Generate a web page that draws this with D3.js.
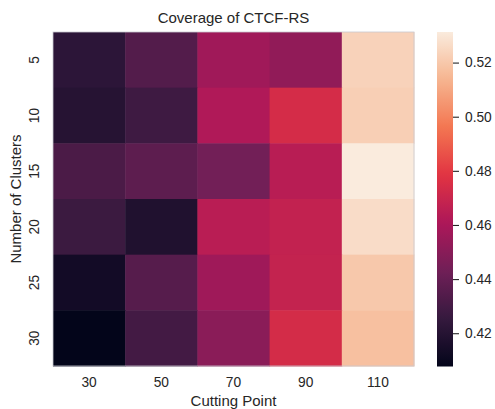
<!DOCTYPE html>
<html><head><meta charset="utf-8">
<script src="https://cdn.jsdelivr.net/npm/d3@7"></script>
<style>body{margin:0;background:#fff;} svg{display:block;} text{font-family:"Liberation Sans",Arial,sans-serif;fill:#262626;}</style>
</head><body><svg id="c" width="495" height="409"></svg>
<script>
const xLabels = ["30","50","70","90","110"];
const yLabels = ["5","10","15","20","25","30"];
const row5  = [0.4222, 0.4344, 0.4570, 0.4526, 0.5233];
const row10 = [0.4201, 0.4280, 0.4617, 0.4740, 0.5223];
const row15 = [0.4320, 0.4374, 0.4435, 0.4645, 0.5313];
const row20 = [0.4271, 0.4180, 0.4646, 0.4678, 0.5265];
const row25 = [0.4134, 0.4353, 0.4566, 0.4680, 0.5200];
const row30 = [0.4077, 0.4296, 0.4506, 0.4736, 0.5175];
const values = [row5, row10, row15, row20, row25, row30];
const cbarTicks = [0.42, 0.44, 0.46, 0.48, 0.50, 0.52];
const rocketStops = ["#03051a","#35193e","#701f57","#ad1759","#e13342","#f37651","#f6b48f","#faebdd"];

const svg = d3.select("#c");
const m = {left:53, right:414, top:32, bottom:366};
const x = d3.scaleBand().domain(xLabels).range([m.left, m.right]);
const y = d3.scaleBand().domain(yLabels).range([m.top, m.bottom]);
const all = values.flat();
const vmin = d3.min(all), vmax = d3.max(all);
const rocket = d3.scaleLinear().domain(rocketStops.map((_, i) => i / (rocketStops.length - 1))).range(rocketStops).interpolate(d3.interpolateRgb);
const tScale = d3.scaleLinear().domain([vmin, vmax]).range([0, 1]).clamp(true);
const color = v => rocket(tScale(v));

const cells = [];
values.forEach((row, i) => row.forEach((v, j) => cells.push({r: yLabels[i], c: xLabels[j], v})));
svg.append("g").selectAll("rect").data(cells).join("rect")
  .attr("x", d => x(d.c)).attr("y", d => y(d.r))
  .attr("width", x.bandwidth() + 0.5).attr("height", y.bandwidth() + 0.5)
  .attr("fill", d => color(d.v));
svg.append("rect").attr("x", m.left).attr("y", m.top).attr("width", m.right - m.left).attr("height", m.bottom - m.top)
  .attr("fill", "none").attr("stroke", "#c8c8d0").attr("stroke-width", 0.8);

// axes
const xAxis = svg.append("g").attr("transform", `translate(0,${m.bottom})`).call(d3.axisBottom(x).tickSize(0).tickPadding(0));
xAxis.select(".domain").remove();
xAxis.selectAll("text").attr("y", 21.3).attr("dy", null).style("font-size", "13.75px").attr("fill", "#262626");

const yAxis = svg.append("g").attr("transform", `translate(${m.left},0)`).call(d3.axisLeft(y).tickSize(0));
yAxis.select(".domain").remove();
yAxis.selectAll(".tick text").attr("x", null).attr("dy", null).attr("text-anchor", "middle")
  .attr("transform", "translate(-14,0) rotate(-90)").style("font-size", "13.75px").attr("fill", "#262626");

svg.append("text").attr("x", (m.left + m.right) / 2).attr("y", 23.3).attr("text-anchor", "middle")
  .style("font-size", "15px").text("Coverage of CTCF-RS");
svg.append("text").attr("x", (m.left + m.right) / 2).attr("y", 405.5).attr("text-anchor", "middle")
  .style("font-size", "15px").text("Cutting Point");
svg.append("text").attr("transform", `translate(21,${(m.top + m.bottom) / 2}) rotate(-90)`).attr("text-anchor", "middle")
  .style("font-size", "15px").text("Number of Clusters");

// colorbar
const cb = {x: 437, w: 16, top: 32, bottom: 366.5};
const cy = d3.scaleLinear().domain([vmin, vmax]).range([cb.bottom, cb.top]);
const grad = svg.append("defs").append("linearGradient").attr("id", "cbg").attr("x1", 0).attr("y1", 1).attr("x2", 0).attr("y2", 0);
d3.range(0, 1.0001, 0.02).forEach(t => grad.append("stop").attr("offset", t).attr("stop-color", rocket(t)));
svg.append("rect").attr("x", cb.x).attr("y", cb.top).attr("width", cb.w).attr("height", cb.bottom - cb.top).attr("fill", "url(#cbg)");
const cAxis = svg.append("g").attr("transform", `translate(${cb.x + cb.w},0)`)
  .call(d3.axisRight(cy).tickValues(cbarTicks).tickFormat(d3.format(".2f")).tickSize(6).tickPadding(6));
cAxis.select(".domain").remove();
cAxis.selectAll("line").attr("stroke", "#262626").attr("stroke-width", 1.1);
cAxis.selectAll("text").style("font-size", "13.75px").attr("fill", "#262626");
</script></body></html>
